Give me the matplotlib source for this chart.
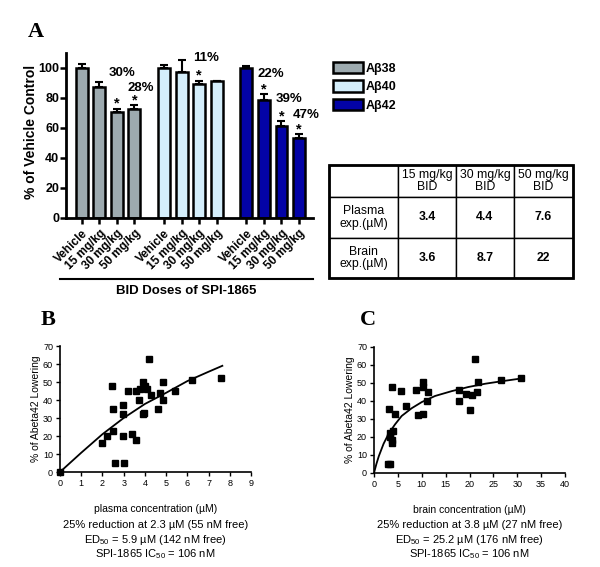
import matplotlib
matplotlib.use('Agg')
import matplotlib.pyplot as plt
from matplotlib.lines import Line2D
from matplotlib.patches import Rectangle
import numpy as np

plt.rcParams['font.family'] = ['Liberation Sans', 'DejaVu Sans']
plt.rcParams['mathtext.default'] = 'regular'

# ---- panel A data ----
series = ['A\u03b238', 'A\u03b240', 'A\u03b242']
colors = ['#9DAAAF', '#D4EEFB', '#0303A6']
doses = ['Vehicle', '15 mg/kg', '30 mg/kg', '50 mg/kg']
ab38 = [100, 87.5, 70.5, 72.5]
ab38_err = [2.5, 3.5, 2.5, 2.7]
ab40 = [100, 97.5, 89.5, 91.2]
ab40_err = [1.8, 8, 2, 0]
ab42 = [100, 78.5, 61.5, 53.5]
ab42_err = [1.5, 4, 3, 2.2]
# (group, bar) with significance star
stars = [(0, 2), (0, 3), (1, 2), (2, 1), (2, 2), (2, 3)]
pct_labels = ['30%', '28%', '11%', '22%', '39%', '47%']

# table data
tab_cols = ['', '15 mg/kg\nBID', '30 mg/kg\nBID', '50 mg/kg\nBID']
tab_rows = ['Plasma\nexp.(\u00b5M)', 'Brain\nexp.(\u00b5M)']
plasma_exp = ['3.4', '4.4', '7.6']
brain_exp = ['3.6', '8.7', '22']

# ---- panel B / C data ----
plasma_x = [2.0, 2.2, 2.44, 2.52, 2.52, 2.6, 2.99, 2.99, 2.99, 3.03, 3.2, 3.4, 3.57,
            3.6, 3.7, 3.77, 3.9, 3.9, 3.98, 4.0, 4.1, 4.2, 4.3, 4.6, 4.7, 4.84, 4.87,
            5.4, 6.2, 7.6, 0.0]
plasma_y = [16, 20, 48, 35, 23, 5, 37, 32, 20, 5, 45, 21, 18,
            45, 40, 46, 50, 32, 33, 48, 46, 63, 43, 35, 44, 50, 40,
            45, 51, 52, 0]
plasma_fit_x = [0, 1, 2, 3, 4, 5, 6, 7, 7.65]
plasma_fit_y = [0, 10.7, 21, 30, 37.8, 44, 50.5, 55.7, 59]

brain_x = [2.9, 3.3, 3.1, 3.7, 3.4, 3.9, 3.7, 3.7, 3.4, 4.4, 5.6, 6.6, 8.9, 9.2, 10.2,
           10.3, 10.3, 11.4, 11.2, 17.8, 17.8, 19.2, 20.1, 20.5, 21.2, 21.5, 21.7,
           26.6, 30.8]
brain_y = [5, 5, 35.5, 48, 22, 23.5, 18.6, 16.6, 20, 32.6, 45.7, 37, 46, 32, 33,
           50.6, 48, 45, 40, 46, 40, 44, 35, 43.6, 63.5, 45, 50.6,
           51.6, 52.6]
brain_fit_x = [0, 0.5, 1, 2, 3.1, 4.4, 5.8, 7.9, 10, 12.8, 16.3, 19.8, 23.3, 26.8, 30.8]
brain_fit_y = [0, 5, 9.3, 16.2, 22, 27, 31.7, 36, 39.4, 42.8, 45.5, 47.8, 49.6, 51, 52.5]

W, H = 600, 567
fig = plt.figure(figsize=(6, 5.67), dpi=100)


def px_axes(left, top, right, bottom):
    return fig.add_axes([left / W, 1 - bottom / H, (right - left) / W, (bottom - top) / H])


# ================= panel A =================
ax = px_axes(66, 53, 313, 218)
group_base = [0, 4.7, 9.4]
values = [ab38, ab40, ab42]
errs = [ab38_err, ab40_err, ab42_err]
xpos_all = []
bars = []
for g in range(3):
    xs = np.arange(4) + group_base[g]
    xpos_all.extend(xs)
    b = ax.bar(xs, values[g], width=0.68, color=colors[g], edgecolor='black',
               linewidth=1.8, label=series[g], zorder=2)
    bars.append(b)
    e = errs[g]
    ax.errorbar(xs, values[g], yerr=[[0] * 4, e], fmt='none', ecolor='black',
                elinewidth=1.5, capsize=3, capthick=1.5, zorder=1)

for (g, i) in stars:
    x = group_base[g] + i
    ax.text(x, values[g][i] + errs[g][i] + 3.2, '*', ha='center', va='center',
            fontsize=10.5, fontweight='bold')

pct_pos = [(2.3, 97), (3.35, 86.5), (7.1, 106.5), (10.8, 96), (11.85, 79), (12.8, 69)]
for lab, (x, y) in zip(pct_labels, pct_pos):
    ax.text(x, y, lab, ha='center', va='center', fontsize=9.5, fontweight='bold',
            clip_on=False)

ax.set_xlim(-0.9, 13.2)
ax.set_ylim(0, 110)
ax.set_yticks([0, 20, 40, 60, 80, 100])
ax.set_xticks(xpos_all)
ax.set_xticklabels(doses * 3, rotation=45, ha='right', rotation_mode='anchor',
                   fontsize=8.5, fontweight='bold')
for lab in ax.get_yticklabels():
    lab.set_fontweight('bold')
    lab.set_fontsize(9)
for s in ['top', 'right']:
    ax.spines[s].set_visible(False)
for s in ['left', 'bottom']:
    ax.spines[s].set_linewidth(2)
ax.tick_params(axis='both', width=1.8, length=4, pad=1)
ax.tick_params(axis='x', pad=3)
ax.set_ylabel('% of Vehicle Control', fontsize=10, fontweight='bold')
ax.yaxis.set_label_coords(-0.115, 0.52)

fig.add_artist(Line2D([60 / W, 313 / W], [1 - 279 / H, 1 - 279 / H], color='black', lw=1.5))
fig.text(186 / W, 1 - 291 / H, 'BID Doses of SPI-1865', ha='center', va='center',
         fontsize=9.5, fontweight='bold')

fig.legend(handles=bars, labels=series, loc='upper left',
           bbox_to_anchor=(328 / W, 1 - 57 / H), frameon=False,
           prop={'weight': 'bold', 'size': 9}, handlelength=2.4, handleheight=1.0,
           labelspacing=0.45, handletextpad=0.2, borderaxespad=0)

fig.text(28 / W, 1 - 32 / H, 'A', fontsize=16, fontweight='bold',
         family='Liberation Serif', va='center')

# ---- table ----
tax = px_axes(329, 165, 573, 278)
tax.axis('off')
cell_text = [tab_cols, [tab_rows[0]] + plasma_exp, [tab_rows[1]] + brain_exp]
tbl = tax.table(cellText=cell_text, bbox=[0, 0, 1, 1], cellLoc='center',
                colWidths=[69 / 244, 58 / 244, 58 / 244, 59 / 244])
tbl.auto_set_font_size(False)
row_h = [32, 41, 40]
for (r, c), cell in tbl.get_celld().items():
    cell.set_height(row_h[r] / 113)
    cell.set_linewidth(1.0)
    cell.get_text().set_fontsize(8.8)
    if r > 0 and c > 0:
        cell.get_text().set_fontweight('bold')
    cell.get_text().set_linespacing(1.1)
tax.add_patch(Rectangle((0, 0), 1, 1, transform=tax.transAxes, fill=False,
                        lw=2, edgecolor='black', clip_on=False))


# ================= panels B and C =================
def scatter_panel(box, xs, ys, fx, fy, xlim, xticks, xlabel, lines, letter, letter_x):
    a = px_axes(*box)
    a.plot(xs, ys, 's', color='black', markersize=4.6, clip_on=False, zorder=3)
    a.plot(fx, fy, '-', color='black', lw=1.3)
    a.set_xlim(*xlim)
    a.set_ylim(0, 70)
    a.set_xticks(xticks)
    a.set_yticks(range(0, 71, 10))
    for s in ['top', 'right']:
        a.spines[s].set_visible(False)
    for s in ['left', 'bottom']:
        a.spines[s].set_linewidth(1.2)
    a.tick_params(labelsize=6.5, length=3, width=1, pad=2)
    a.set_xlabel(xlabel, fontsize=7.5)
    a.xaxis.set_label_coords(0.5, -0.255)
    a.set_ylabel('% of Abeta42 Lowering', fontsize=7.5)
    a.yaxis.set_label_coords(-0.1, 0.5)
    cx = (box[0] + box[2]) / 2 / W
    for ytxt, t in zip([525, 540, 554], lines):
        fig.text(cx, 1 - ytxt / H, t, ha='center', va='center', fontsize=8)
    fig.text(letter_x / W, 1 - 320 / H, letter, fontsize=16, fontweight='bold',
             family='Liberation Serif', va='center')
    return a


scatter_panel((60, 346, 251, 472), plasma_x, plasma_y, plasma_fit_x, plasma_fit_y,
              (0, 9), range(0, 10), 'plasma concentration (\u00b5M)',
              ['25% reduction at 2.3 \u00b5M (55 nM free)',
               'ED$_{50}$ = 5.9 \u00b5M (142 nM free)',
               'SPI-1865 IC$_{50}$ = 106 nM'], 'B', 41)
scatter_panel((374, 347, 565, 473), brain_x, brain_y, brain_fit_x, brain_fit_y,
              (0, 40), range(0, 41, 5), 'brain concentration (\u00b5M)',
              ['25% reduction at 3.8 \u00b5M (27 nM free)',
               'ED$_{50}$ = 25.2 \u00b5M (176 nM free)',
               'SPI-1865 IC$_{50}$ = 106 nM'], 'C', 360)

fig.savefig('out.png', dpi=100)
